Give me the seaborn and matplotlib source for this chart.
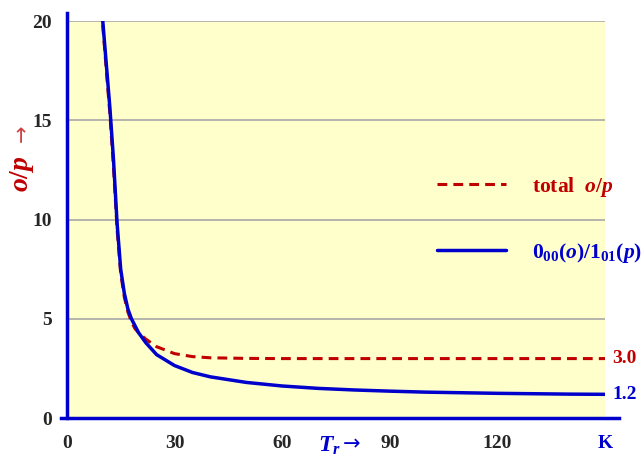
import numpy as np
import pandas as pd
import seaborn as sns
import matplotlib.pyplot as plt

# data
temp = [10, 11, 12, 13, 14, 15, 16, 17, 18, 19, 20, 22, 25, 30, 35, 40, 50,
        60, 70, 80, 90, 100, 110, 120, 130, 140, 150]
ratio_00_01 = [20.0, 17.8, 15.6, 13.0, 9.8, 7.5, 6.3, 5.5, 5.0, 4.65, 4.3, 3.8,
               3.2, 2.65, 2.3, 2.08, 1.8, 1.62, 1.5, 1.42, 1.36, 1.31, 1.28,
               1.25, 1.23, 1.21, 1.2]
ratio_total = [19.8, 17.5, 15.3, 12.6, 9.5, 7.3, 6.1, 5.35, 4.85, 4.5, 4.3, 3.98,
               3.6, 3.25, 3.1, 3.04, 3.01, 3.0, 3.0, 3.0, 3.0, 3.0, 3.0, 3.0,
               3.0, 3.0, 3.0]
xticks = [0, 30, 60, 90, 120, 150]
xticklabels = ['0', '30', '60', '90', '120', 'K']
yticks = [0, 5, 10, 15, 20]
end_labels = ['3.0', '1.2']

RED = '#C00000'
BLUE = '#0000CC'

df = pd.DataFrame({'T': temp, 'blue': ratio_00_01, 'red': ratio_total})

sns.set_style('white')
plt.rcParams['font.family'] = ['Liberation Serif', 'DejaVu Serif']
plt.rcParams['mathtext.fontset'] = 'custom'
plt.rcParams['mathtext.rm'] = 'Liberation Serif:bold'
plt.rcParams['mathtext.it'] = 'Liberation Serif:italic:bold'
plt.rcParams['mathtext.bf'] = 'Liberation Serif:bold'

fig = plt.figure(figsize=(6.43, 4.57), dpi=100)
ax = fig.add_axes([0.104, 0.085, 0.837, 0.869])
ax.set_facecolor('#FFFFCC')

sns.lineplot(data=df, x='T', y='red', ax=ax, color=RED, linewidth=2.2,
             label='total  $o/p$')
ax.lines[-1].set_dashes([3.2, 2.0])
sns.lineplot(data=df, x='T', y='blue', ax=ax, color=BLUE, linewidth=2.5,
             label='$0_{00}(o)/1_{01}(p)$')

ax.set_xlim(0, 150)
ax.set_ylim(0, 20)
ax.set_yticks(yticks)
ax.set_yticklabels([str(v) for v in yticks], fontsize=14, fontweight='bold')
ax.set_xticks(range(0, 151, 10), minor=True)
ax.set_xticks(xticks)
ax.set_xticklabels(xticklabels, fontsize=14, fontweight='bold')
ax.get_xticklabels()[-1].set_color(BLUE)
ax.tick_params(axis='x', which='both', direction='out', length=5, width=2.5,
               color=BLUE, pad=7)
ax.tick_params(axis='y', length=0, pad=11)
ax.yaxis.grid(True, color='#A8A8A8', linewidth=1.2)
ax.set_axisbelow(True)

for side in ['top', 'right']:
    ax.spines[side].set_visible(False)
for side in ['left', 'bottom']:
    ax.spines[side].set_color(BLUE)
    ax.spines[side].set_linewidth(2.5)
ax.spines['bottom'].set_bounds(-1.5, 154)
ax.spines['left'].set_bounds(0, 20.4)

ax.set_xlabel('')
ax.set_ylabel('')

# value labels at the right end of each curve
ax.text(152, ratio_total[-1], end_labels[0], color=RED, fontsize=14,
        fontweight='bold', va='center', ha='left', clip_on=False)
ax.text(152, ratio_00_01[-1], end_labels[1], color=BLUE, fontsize=14,
        fontweight='bold', va='center', ha='left', clip_on=False)

leg = ax.legend(loc='center left', bbox_to_anchor=(0.652, 0.5), frameon=False,
                handlelength=3.2, handletextpad=1.2, labelspacing=1.95,
                prop={'size': 15.5, 'weight': 'bold'})
for txt, c in zip(leg.get_texts(), [RED, BLUE]):
    txt.set_color(c)

fig.text(22 / 643, 1 - 174 / 457, '$o/p$', color=RED,
         fontsize=20, rotation=90, ha='center', va='center')
fig.text(22 / 643, 1 - 133 / 457, '→', color='#D04040', family='DejaVu Sans',
         fontsize=15, rotation=90, ha='center', va='center')
fig.text(318 / 643, 1 - 435 / 457, '$T_r$', color=BLUE,
         fontsize=17, ha='left', va='top')
fig.text(343 / 643, 1 - 444 / 457, '→', color=BLUE, family='DejaVu Sans',
         fontsize=15, ha='left', va='center')

fig.savefig('out.png', dpi=100)
